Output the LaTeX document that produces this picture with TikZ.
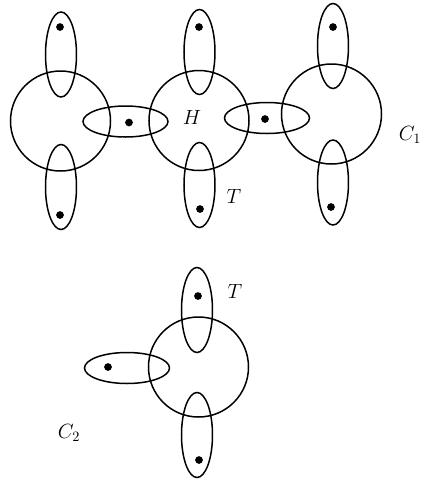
\documentclass[tikz,border=0pt]{standalone}
\usepackage{amsmath,amssymb}
\usetikzlibrary{shapes.geometric}

\begin{document}
\begin{tikzpicture}[x=0.7pt,y=-0.7pt,
  bag/.style={draw,circle,line width=1.05pt,inner sep=0pt,minimum size=70pt},
  vedge/.style={draw,ellipse,line width=1.05pt,inner sep=0pt,
    minimum width=21.7pt,minimum height=59.5pt},
  hedge/.style={draw,ellipse,line width=1.05pt,inner sep=0pt,
    minimum width=59.5pt,minimum height=21.7pt},
  vertex/.style={fill,circle,inner sep=0pt,minimum size=5.4pt},
  every node/.style={font=\Large}]
  % Drawing units are pixels of the reference, y pointing down.
  \useasboundingbox (0,0) rectangle (423,483);

  % C_1: three bags in a row
  \node[bag] (b1) at (60.5,121) {};
  \node[bag] (b2) at (199,120.5) {};
  \node[bag] (b3) at (331.5,114) {};

  \node[vedge] (e1t) at (61,54.5) {};
  \node[vedge] (e1b) at (61,187) {};
  \node[hedge] (e12) at (125.5,121.5) {};
  \node[vedge] (e2t) at (199.5,52) {};
  \node[vedge] (e2b) at (199.5,185) {};
  \node[hedge] (e23) at (267,118) {};
  \node[vedge] (e3t) at (333,46) {};
  \node[vedge] (e3b) at (333,182.5) {};

  \node[vertex] (v1t) at (60,27) {};
  \node[vertex] (v1b) at (60,215) {};
  \node[vertex] (v12) at (129,122.5) {};
  \node[vertex] (v2t) at (199,27) {};
  \node[vertex] (v2b) at (200,209) {};
  \node[vertex] (v23) at (265,119) {};
  \node[vertex] (v3t) at (333,27) {};
  \node[vertex] (v3b) at (331,207) {};

  \node (lH) at (192,117) {$H$};
  \node (lT1) at (234,196) {$T$};
  \node (lC1) at (410,135) {$C_1$};

  % C_2: a single bag
  \node[bag] (b4) at (198.5,367) {};
  \node[vedge] (e4t) at (197,310) {};
  \node[vedge] (e4b) at (197,435) {};
  \node[hedge] (e4l) at (127,368) {};

  \node[vertex] (v4t) at (198,296) {};
  \node[vertex] (v4b) at (199,460) {};
  \node[vertex] (v4l) at (108,367) {};

  \node (lT2) at (235,291) {$T$};
  \node (lC2) at (69,433) {$C_2$};
\end{tikzpicture}
\end{document}
